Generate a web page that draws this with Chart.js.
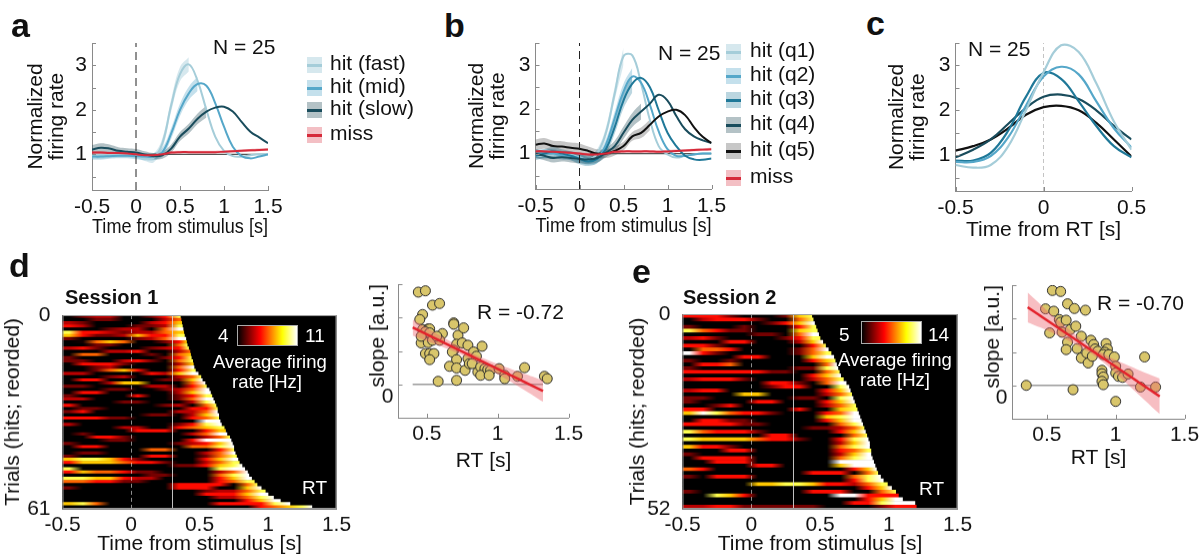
<!DOCTYPE html>
<html>
<head>
<meta charset="utf-8">
<title>Firing rate and RT</title>
<script src="https://cdn.jsdelivr.net/npm/chart.js@4.4.1/dist/chart.umd.min.js"></script>
<style>
  body { margin: 0; width: 1199px; height: 559px; position: relative; overflow: hidden; background: #fff;
         font-family: "Liberation Sans", Arial, Helvetica, sans-serif; color: #111; }
  .box { position: absolute; }
  .txt { position: absolute; white-space: nowrap; line-height: 1; }
  .sw { position: absolute; width: 15px; height: 16px; }
  .sw i { position: absolute; left: 0; top: 6.5px; width: 15px; height: 3px; }
  .cbar { position: absolute; box-sizing: border-box; border: 1px solid #aaa;
          background: linear-gradient(90deg, #000 0%, #f00 37.5%, #ff0 75%, #fff 100%); }
</style>
</head>
<body>
<script>
// ---------- panel a: hits split by RT, and misses ----------
const tA = [-0.5,-0.4,-0.3,-0.2,-0.1,0,0.1,0.2,0.3,0.4,0.5,0.6,0.7,0.8,0.9,1.0,1.1,1.2,1.3,1.4,1.5];
const hitFast = [0.98,0.98,0.99,1.0,1.0,0.98,0.93,0.92,1.25,2.1,2.8,3.02,2.65,2.0,1.4,1.08,0.96,0.95,0.98,1.0,1.0];
const hitMid  = [0.95,0.95,0.96,0.97,0.97,0.96,0.95,0.95,1.05,1.47,2.0,2.37,2.58,2.54,2.15,1.62,1.17,0.96,0.91,0.95,1.0];
const hitSlow = [1.11,1.15,1.13,1.08,1.06,1.04,1.0,0.96,0.98,1.13,1.4,1.58,1.8,1.96,2.05,2.07,1.96,1.73,1.51,1.38,1.25];
const missA   = [1.04,1.04,1.03,1.03,1.02,1.0,0.98,0.98,1.0,1.04,1.05,1.05,1.05,1.05,1.05,1.06,1.07,1.08,1.09,1.1,1.11];
const semFast = [0.08,0.08,0.07,0.07,0.07,0.07,0.08,0.1,0.12,0.14,0.16,0.16];
const semMid  = [0.07,0.07,0.06,0.06,0.06,0.07,0.08,0.08,0.1,0.12,0.14,0.15,0.16];
const semSlow = [0.1,0.1,0.09,0.08,0.08,0.08,0.07,0.07,0.08,0.09,0.1,0.11,0.12,0.13];
const semMissA = [0.03,0.03,0.03,0.03,0.03,0.03,0.03,0.03,0.03,0.03,0.03,0.03,0.03,0.03,0.03,0.03,0.03,0.03,0.03,0.03,0.03];
const legendA = ['hit (fast)', 'hit (mid)', 'hit (slow)', 'miss'];

// ---------- panel b: hits by RT quintile ----------
const tB = tA;
const q1 = [0.95,0.95,0.97,0.98,0.97,0.92,0.86,1.0,1.47,2.36,3.2,3.22,2.58,1.76,1.17,0.98,0.91,0.95,0.98,1.0,1.0];
const q2 = [1.0,1.0,1.0,0.96,0.95,0.9,0.85,0.88,1.2,1.8,2.4,2.74,2.6,2.1,1.5,1.1,0.95,0.95,0.98,1.0,1.0];
const q3 = [0.95,1.0,1.05,1.0,0.95,0.88,0.82,0.88,1.1,1.6,2.2,2.58,2.71,2.5,1.98,1.47,1.17,0.95,0.87,0.86,0.89];
const q4 = [1.0,0.95,0.9,0.92,0.9,0.88,0.87,0.9,1.02,1.17,1.47,1.76,1.95,2.13,2.33,2.2,1.85,1.55,1.39,1.3,1.24];
const q5 = [1.2,1.23,1.17,1.16,1.13,1.11,1.06,1.0,1.0,1.06,1.17,1.39,1.47,1.65,1.84,1.95,1.99,1.87,1.6,1.38,1.24];
const missB = [1.05,1.05,1.04,1.03,1.02,1.0,0.98,0.98,1.0,1.04,1.05,1.05,1.05,1.05,1.04,1.05,1.06,1.07,1.08,1.09,1.1];
const semQ1 = [0.08,0.08,0.08,0.08,0.08,0.1,0.1,0.1,0.12,0.15,0.2];
const semQ2 = [0.1,0.1,0.1,0.1,0.1,0.12,0.1,0.1,0.12,0.15,0.18,0.2];
const semQ3 = [0.1,0.1,0.1,0.1,0.1,0.12,0.1,0.1,0.12,0.15,0.18,0.2];
const semQ4 = [0.1,0.1,0.1,0.1,0.1,0.1,0.1,0.1,0.1,0.12,0.14,0.16,0.18];
const semQ5 = [0.12,0.12,0.12,0.12,0.12,0.12,0.1,0.1,0.1,0.1,0.1,0.1,0.12,0.12];
const semMissB = semMissA;
const legendB = ['hit (q1)', 'hit (q2)', 'hit (q3)', 'hit (q4)', 'hit (q5)', 'miss'];

// ---------- panel c: aligned to RT ----------
const tC = [-0.5,-0.4,-0.3,-0.2,-0.1,0,0.1,0.2,0.3,0.4,0.5];
const c1 = [0.78,0.72,0.78,1.2,2.0,2.85,3.45,3.3,2.6,1.75,1.12];
const c2 = [0.85,0.85,0.98,1.4,2.1,2.75,2.97,2.8,2.2,1.6,1.17];
const c3 = [0.88,0.88,1.05,1.55,2.3,2.83,2.7,2.2,1.65,1.2,0.95];
const c4 = [0.95,1.12,1.35,1.7,2.05,2.3,2.35,2.25,2.0,1.65,1.35];
const c5 = [1.1,1.2,1.35,1.6,1.9,2.07,2.1,2.0,1.72,1.35,0.97];

// shared ticks
const rateTicks = [0.5,1,1.5,2,2.5,3,3.5];
const rateLabels = [1,2,3];
const stimTicks = [-0.5,0,0.5,1,1.5];
const rtTicks = [-0.5,0,0.5];
const baseLineX = [0.12, 1.5];

// ---------- panel d / e heatmaps: one string per trial, digit = rate level per 0.1 s bin from -0.5 s ----------
const rtHeatD = [0.36,0.365,0.37,0.375,0.38,0.385,0.39,0.40,0.405,0.41,
  0.42,0.43,0.435,0.44,0.45,0.455,0.46,0.47,0.49,0.51,
  0.52,0.54,0.55,0.57,0.58,0.59,0.60,0.61,0.62,0.63,
  0.63,0.64,0.64,0.65,0.66,0.68,0.69,0.70,0.72,0.73,
  0.74,0.75,0.75,0.76,0.77,0.78,0.79,0.81,0.83,0.85,
  0.86,0.88,0.90,0.92,0.95,0.98,1.00,1.04,1.09,1.16,1.32];
const heatD = ['034400358','003300046','430000457','540003348','000344069','855434467','753347558','300003469',
  '0167600357','0033000068','4530003458','0004450046','0660003067','3000000358','3300453068','0555300047',
  '0034000069','0036750058','4400005479','00034000468','05500003379','00047700069','33000044058','00033003469',
  '05500000479','30000500358','44000000369','000033000489','500000034068','033000000558','350000004469','000000330479',
  '555330000568','000000000099','400000003589','000044005678','000005550057','030000000469','0055300000468','0003300005999',
  '3000000034579','0550000006689','0000006600058','0330000000469','3000005500368','7887530000579','5777655300468','00000000335789',
  '80000000000899','57665330000469','00000033000689','88775440000579','66553300000568','000000005555068','300000005550079','000000000034468',
  '000000000055579','0000000000044689','0000000000000579','78600000000555589','0000000000000056789'];
const rtHeatE = [0.44,0.45,0.46,0.47,0.48,0.49,0.50,0.52,0.54,0.56,
  0.58,0.60,0.61,0.62,0.63,0.64,0.65,0.67,0.69,0.71,
  0.72,0.73,0.74,0.75,0.76,0.77,0.78,0.79,0.80,0.81,
  0.82,0.83,0.84,0.85,0.86,0.86,0.87,0.87,0.88,0.89,
  0.90,0.91,0.92,0.94,0.96,0.99,1.02,1.05,1.07,1.10,1.19,1.20];
const heatE = ['5553000378','0455530068','0000003579','3000300058','8653300078','0000033069','4530000358','00055000479',
  '55300000058','06650000369','95300000368','00005500079','300300000578','055600000069','300000003389','555555330068',
  '000000000579','455530000468','000000553069','0000003550089','4550000000579','0000770000468','3300000033089','3000055000579',
  '0035000000468','5500000050078','7986553000569','0000000000789','0553300000579','55553300000689','00000000033468','86555300000579',
  '00000055000068','87777655300589','00000000000479','75530000000689','00055000000568','30000000000479','05555000000689','00555000000999',
  '00000550000799','650000000000579','000000000555068','305550000000689','000000000000589','000007788755468','0000000000000579','3000000005550068',
  '0087500000099555','0000000000000579','00000000000055899','44553333330000355'];
const heatTicksX = [-0.5,0,0.5,1,1.5];
const trialTicksD = [0, 61];
const trialTicksE = [0, 52];
const heatMarkT = [0, 0.3];

// ---------- scatter: slope vs RT ----------
const rtScatD = [0.44,0.49,0.54,0.59,0.47,0.45,0.47,0.51,0.52,0.49,0.52,0.61,0.46,0.51,0.54,0.59,0.49,0.52,0.55,0.52,
  0.58,0.69,0.69,0.72,0.76,0.71,0.75,0.79,0.69,0.68,0.71,0.66,0.71,0.71,0.77,0.79,0.80,0.83,0.85,0.82,
  0.86,0.89,0.88,0.91,0.88,0.93,0.95,0.94,1.01,1.05,1.05,1.14,1.19,1.33,1.35,0.46,0.57];
const slopeScatD = [2.76,2.80,2.37,2.42,2.09,1.94,1.64,1.66,1.66,1.57,1.54,1.52,1.24,1.25,1.32,1.32,0.92,0.92,0.92,0.74,
  0.09,1.84,1.80,1.47,1.69,1.20,1.24,1.17,1.02,0.97,0.74,0.54,0.49,0.12,0.42,0.77,0.62,0.97,0.84,0.62,
  0.37,1.14,0.52,0.47,0.27,0.44,0.42,0.27,0.47,0.27,0.17,0.24,0.50,0.24,0.17,1.44,1.44];
const fitXD = [0.40, 1.32], fitYD = [1.70, -0.20];
const bandXD = [0.4,0.6,0.8,1.0,1.2,1.32];
const bandUpD = [1.94,1.44,0.97,0.61,0.30,0.12];
const bandLoD = [1.46,1.14,0.77,0.31,-0.20,-0.52];
const zeroXD = [0.40, 1.32];

const rtScatE = [0.54,0.60,0.49,0.55,0.65,0.70,0.78,0.59,0.60,0.64,0.52,0.61,0.67,0.71,0.65,0.64,0.72,0.75,0.75,0.80,
  0.82,0.84,0.85,0.87,0.79,0.83,0.93,0.94,0.92,0.91,0.95,0.99,0.90,0.90,0.91,0.90,0.91,1.00,1.00,1.02,
  1.05,1.09,1.18,1.21,1.29,0.35,0.69,1.00];
const slopeScatE = [2.84,2.81,2.29,2.22,2.44,2.30,2.25,1.97,1.89,1.95,1.57,1.59,1.67,1.77,1.29,1.07,1.10,1.47,0.82,0.67,
  1.35,1.22,1.09,1.02,0.97,0.87,1.25,1.09,0.99,0.92,0.92,0.85,0.45,0.35,0.25,0.12,0.02,0.57,0.37,0.27,
  0.24,0.34,-0.05,0.85,-0.05,0.00,-0.13,-0.48];
const fitXE = [0.36, 1.32], fitYE = [2.34, -0.33];
const bandXE = [0.36,0.55,0.75,0.9,1.1,1.32];
const bandUpE = [2.78,2.06,1.39,0.96,0.58,0.20];
const bandLoE = [1.89,1.56,1.13,0.72,-0.02,-0.86];
const zeroXE = [0.35, 1.32];
const zeroY = [0, 0];
const slopeTicksX = [0.5, 1, 1.5];
const slopeTicksY = [-1, 0, 1, 2, 3];
const slopeLabelsY = [0];

// ---------- styling ----------
const INK = '#111', AXIS = '#8a8a8a';
const FONT = {size: 21};
const C1 = '#a5cdd9', C2 = '#55a7c9', C3 = '#1f7898', C4 = '#194c5c', C5 = '#111111', RED = '#d62a3a';
const SH1 = 'rgba(165,205,217,0.45)', SH2 = 'rgba(85,167,201,0.35)', SH3 = 'rgba(31,120,152,0.3)';
const SH4 = 'rgba(40,80,92,0.35)', SH5 = 'rgba(0,0,0,0.22)', SHR = 'rgba(214,42,58,0.3)';

Chart.defaults.font.family = '"Liberation Sans", Arial, Helvetica, sans-serif';
Chart.defaults.color = INK;

function mount(area, yw, xh, pt, pr) {
  const div = document.createElement('div');
  div.className = 'box';
  div.style.left = (area.l - yw) + 'px';
  div.style.top = (area.t - pt) + 'px';
  div.style.width = (yw + area.r - area.l + pr) + 'px';
  div.style.height = (pt + area.b - area.t + xh) + 'px';
  const cv = document.createElement('canvas');
  div.appendChild(cv);
  document.body.appendChild(div);
  return cv;
}

function xAxis(min, max, ticks, title, xh, pad) {
  return {
    type: 'linear', min, max, offset: false,
    afterBuildTicks: s => { s.ticks = ticks.map(v => ({value: v})); },
    afterFit: s => { s.height = xh; },
    grid: {display: false, drawTicks: false},
    border: {display: true, color: AXIS},
    ticks: {color: INK, font: FONT, padding: pad, maxRotation: 0, autoSkip: false, callback: v => String(v)},
    title: {display: true, text: title, color: INK, font: FONT, padding: 0}
  };
}

function yAxis(min, max, ticks, shown, title, yw, pad, reverse, labelFn) {
  return {
    type: 'linear', min, max, reverse: !!reverse, offset: false,
    afterBuildTicks: s => { s.ticks = ticks.map(v => ({value: v})); },
    afterFit: s => { s.width = yw; },
    grid: {display: false, drawTicks: false},
    border: {display: true, color: AXIS},
    ticks: {color: INK, font: FONT, padding: pad, autoSkip: false,
            callback: v => shown.includes(v) ? (labelFn ? labelFn(v) : String(v)) : ''},
    title: {display: true, text: title, color: INK, font: {size: 21, lineHeight: 1}, padding: 0}
  };
}

// matlab-like inward tick marks
const inTicks = {
  id: 'inTicks',
  afterDatasetsDraw(chart, args, opts) {
    const {ctx, chartArea: a, scales: {x, y}} = chart;
    ctx.save();
    ctx.strokeStyle = AXIS;
    ctx.lineWidth = 1;
    ctx.beginPath();
    (opts.x || []).forEach(v => { const p = Math.round(x.getPixelForValue(v)) + 0.5; ctx.moveTo(p, a.bottom); ctx.lineTo(p, a.bottom - 4); });
    (opts.y || []).forEach(v => { const p = Math.round(y.getPixelForValue(v)) + 0.5; ctx.moveTo(a.left, p); ctx.lineTo(a.left + 4, p); });
    ctx.stroke();
    ctx.restore();
  }
};

const pts = (t, ys) => t.map((x, i) => ({x, y: ys[i] ?? null}));
const band = (t, ys, sem, sign) => t.map((x, i) => ({x, y: sem[i] == null ? null : ys[i] + sign * sem[i]}));

function trace(t, ys, sem, color, shade) {
  return [
    {data: band(t, ys, sem, 1), borderWidth: 0, backgroundColor: shade, fill: '+1', tension: 0.4, order: 5},
    {data: band(t, ys, sem, -1), borderWidth: 0, backgroundColor: shade, fill: false, tension: 0.4, order: 5},
    {data: pts(t, ys), borderColor: color, borderWidth: 2, fill: false, tension: 0.4, order: 1}
  ];
}

function rateChart(area, yw, xh, xMin, xMax, xTicks, xTitle, datasets) {
  const cv = mount(area, yw, xh, 20, 24);
  return new Chart(cv, {
    type: 'line',
    data: {datasets},
    options: {
      responsive: true, maintainAspectRatio: false, animation: false,
      layout: {padding: {top: 20, right: 24}},
      elements: {point: {radius: 0}},
      scales: {
        x: xAxis(xMin, xMax, xTicks, xTitle, xh, 5),
        y: yAxis(0.2, 3.5, rateTicks, rateLabels, ['Normalized', 'firing rate'], yw, 5)
      },
      plugins: {legend: {display: false}, tooltip: {enabled: false}, colors: {enabled: false}, inTicks: {x: xTicks, y: rateTicks}}
    },
    plugins: [inTicks]
  });
}

const stimLine = {data: [{x: 0, y: 0.2}, {x: 0, y: 3.5}], borderColor: '#222', borderWidth: 1, borderDash: [8, 5], order: 0};
const baseLine = {data: pts(baseLineX, [1, 1]), borderColor: '#555', borderWidth: 1.2, order: 2};

rateChart({l: 92, r: 268, t: 43, b: 190}, 66, 50, -0.5, 1.5, stimTicks, 'Time from stimulus [s]', [
  stimLine, baseLine,
  ...trace(tA, missA, semMissA, RED, SHR),
  ...trace(tA, hitSlow, semSlow, C4, SH4),
  ...trace(tA, hitMid, semMid, C2, SH2),
  ...trace(tA, hitFast, semFast, C1, SH1)
]);

rateChart({l: 535, r: 711, t: 43, b: 189}, 68.5, 50, -0.5, 1.5, stimTicks, 'Time from stimulus [s]', [
  {...stimLine}, {...baseLine, data: pts(baseLineX, [1, 1])},
  ...trace(tB, missB, semMissB, RED, SHR),
  ...trace(tB, q5, semQ5, C5, SH5),
  ...trace(tB, q4, semQ4, C4, SH4),
  ...trace(tB, q3, semQ3, C3, SH3),
  ...trace(tB, q2, semQ2, C2, SH2),
  ...trace(tB, q1, semQ1, C1, SH1)
]);

const lineC = (ys, color) => ({data: pts(tC, ys), borderColor: color, borderWidth: 2.2, tension: 0.4, order: 1});
rateChart({l: 955, r: 1131, t: 43, b: 191}, 68.5, 52, -0.5, 0.5, rtTicks, 'Time from RT [s]', [
  {data: [{x: 0, y: 0.2}, {x: 0, y: 3.5}], borderColor: '#c4c4c4', borderWidth: 1, borderDash: [4, 3], order: 3},
  lineC(c1, C1), lineC(c2, C2), lineC(c3, C3), lineC(c4, C4), lineC(c5, C5)
]);

// ---------- heatmaps ----------
function hot(d) {
  const v = Math.pow(d / 9, 1.6);
  const r = Math.min(1, v / 0.375);
  const g = Math.min(1, Math.max(0, (v - 0.375) / 0.375));
  const b = Math.max(0, (v - 0.75) / 0.25);
  return `rgb(${Math.round(r * 255)},${Math.round(g * 255)},${Math.round(b * 255)})`;
}

function rowFill(c, rows, rts) {
  if (c.type !== 'data') return '#000';
  const xs = c.chart.scales.x;
  const i = c.dataIndex, rt = rts[i], s = rows[i];
  const x0 = xs.getPixelForValue(-0.5), x1 = xs.getPixelForValue(rt);
  if (!isFinite(x0) || !isFinite(x1) || x1 <= x0) return '#000';
  const g = c.chart.ctx.createLinearGradient(x0, 0, x1, 0);
  for (let k = 0; k < s.length; k++) {
    g.addColorStop(Math.min(1, (0.05 + 0.1 * k) / (rt + 0.5)), hot(+s[k]));
  }
  return g;
}

const heatDeco = {
  id: 'heatDeco',
  beforeDatasetsDraw(chart) {
    const {ctx, chartArea: a} = chart;
    ctx.save();
    ctx.fillStyle = '#000';
    ctx.fillRect(a.left, a.top, a.width, a.height);
    ctx.restore();
  },
  afterDatasetsDraw(chart, args, opts) {
    const {ctx, chartArea: a, scales: {x}} = chart;
    const [tStim, tWin] = opts.t;
    ctx.save();
    ctx.lineWidth = 1;
    let p = Math.round(x.getPixelForValue(tStim)) + 0.5;
    ctx.strokeStyle = 'rgba(255,255,255,0.55)';
    ctx.setLineDash([4, 3]);
    ctx.beginPath(); ctx.moveTo(p, a.top); ctx.lineTo(p, a.bottom); ctx.stroke();
    p = Math.round(x.getPixelForValue(tWin)) + 0.5;
    ctx.strokeStyle = 'rgba(225,225,225,0.85)';
    ctx.setLineDash([]);
    ctx.beginPath(); ctx.moveTo(p, a.top); ctx.lineTo(p, a.bottom); ctx.stroke();
    ctx.strokeStyle = '#9a9a9a';
    ctx.strokeRect(a.left + 0.5, a.top + 0.5, a.width - 1, a.height - 1);
    ctx.restore();
  }
};

function heatChart(area, yw, xh, rows, rts, trialTicks) {
  const cv = mount(area, yw, xh, 26, 22);
  return new Chart(cv, {
    type: 'bar',
    data: {datasets: [{
      data: rts.map((rt, i) => ({y: i + 0.5, x: [-0.5, rt]})),
      backgroundColor: c => rowFill(c, rows, rts),
      borderWidth: 0, barPercentage: 1, categoryPercentage: 1
    }]},
    options: {
      indexAxis: 'y', responsive: true, maintainAspectRatio: false, animation: false,
      layout: {padding: {top: 26, right: 22}},
      scales: {
        x: xAxis(-0.5, 1.5, heatTicksX, 'Time from stimulus [s]', xh, 4),
        y: yAxis(trialTicks[0], trialTicks[1], trialTicks, trialTicks, 'Trials (hits; reorded)', yw, 12, true)
      },
      plugins: {legend: {display: false}, tooltip: {enabled: false}, colors: {enabled: false}, heatDeco: {t: heatMarkT}}
    },
    plugins: [heatDeco]
  });
}

heatChart({l: 62, r: 336, t: 315, b: 508}, 59.5, 47.6, heatD, rtHeatD, trialTicksD);
heatChart({l: 682, r: 957, t: 314, b: 508}, 54.5, 47.6, heatE, rtHeatE, trialTicksE);

// ---------- slope scatters ----------
function slopeChart(area, yw, xh, xMin, rt, slope, fitX, fitY, bandX, up, lo, zeroX) {
  const cv = mount(area, yw, xh, 20, 22);
  const xy = (xs, ys) => xs.map((x, i) => ({x, y: ys[i]}));
  const yOpts = yAxis(-1, 3, slopeTicksY, slopeLabelsY, 'slope [a.u.]', yw, 5, false, v => ['', String(v)]);
  yOpts.title.align = 'end';
  return new Chart(cv, {
    type: 'line',
    data: {datasets: [
      {data: xy(zeroX, zeroY), borderColor: '#9a9a9a', borderWidth: 1.5, order: 6},
      {data: xy(rt, slope), showLine: false, pointRadius: 5, pointBackgroundColor: '#d9c66b',
       pointBorderColor: '#2b2b2b', pointBorderWidth: 1, order: 5},
      {data: xy(bandX, up), borderWidth: 0, backgroundColor: 'rgba(236,100,110,0.42)', fill: '+1', tension: 0.4, order: 4},
      {data: xy(bandX, lo), borderWidth: 0, backgroundColor: 'rgba(236,100,110,0.42)', fill: false, tension: 0.4, order: 4},
      {data: xy(fitX, fitY), borderColor: '#e3232c', borderWidth: 2.5, order: 1}
    ]},
    options: {
      responsive: true, maintainAspectRatio: false, animation: false,
      layout: {padding: {top: 20, right: 22}},
      elements: {point: {radius: 0}},
      scales: {
        x: xAxis(xMin, 1.5, slopeTicksX, 'RT [s]', xh, 4),
        y: yOpts
      },
      plugins: {legend: {display: false}, tooltip: {enabled: false}, colors: {enabled: false}, inTicks: {x: slopeTicksX, y: slopeTicksY}}
    },
    plugins: [inTicks]
  });
}

slopeChart({l: 398, r: 568, t: 284, b: 417}, 30.5, 55.6, 0.3, rtScatD, slopeScatD, fitXD, fitYD, bandXD, bandUpD, bandLoD, zeroXD);
slopeChart({l: 1012, r: 1184, t: 285, b: 418}, 29.5, 51.6, 0.25, rtScatE, slopeScatE, fitXE, fitYE, bandXE, bandUpE, bandLoE, zeroXE);

// ---------- text, legends, colorbars ----------
function label(str, left, top, size, extra) {
  const d = document.createElement('div');
  d.className = 'txt';
  d.textContent = str;
  d.style.cssText += `left:${left}px;top:${top}px;font-size:${size}px;` + (extra || '');
  document.body.appendChild(d);
}

function legend(xSw, xTxt, ys, labels, colors, shades) {
  labels.forEach((lab, i) => {
    const sw = document.createElement('div');
    sw.className = 'sw';
    sw.style.left = xSw + 'px';
    sw.style.top = (ys[i] - 8) + 'px';
    sw.style.background = shades[i];
    sw.innerHTML = `<i style="background:${colors[i]}"></i>`;
    document.body.appendChild(sw);
    label(lab, xTxt, ys[i] - 12.8, 21);
  });
}

function cbar(left, top, w, h) {
  const d = document.createElement('div');
  d.className = 'cbar';
  d.style.cssText += `left:${left}px;top:${top}px;width:${w}px;height:${h}px;`;
  document.body.appendChild(d);
}

const BOLD = 'font-weight:bold;';
label('a', 11, 8, 34, BOLD);
label('b', 444, 8, 34, BOLD);
label('c', 866, 6, 34, BOLD);
label('d', 9, 248, 34, BOLD);
label('e', 632, 254, 34, BOLD);

label('N = 25', 213, 35.7, 21);
label('N = 25', 658, 41.5, 21);
label('N = 25', 968, 37.5, 21);

legend(307, 330, [65, 88, 110, 135], legendA, [C1, C2, C4, RED], [SH1, SH2, SH4, SHR]);
legend(726, 750, [52, 76, 100, 125, 151, 178], legendB, [C1, C2, C3, C4, C5, RED], [SH1, SH2, SH3, SH4, SH5, SHR]);

label('Session 1', 65, 287, 20, BOLD);
label('Session 2', 683, 287, 20, BOLD);

const WHITE = 'color:#fff;';
cbar(237, 325, 61, 21);
label('4', 218, 326, 19, WHITE);
label('11', 305, 326, 19, WHITE);
label('Average firing', 213, 353, 18.5, WHITE);
label('rate [Hz]', 232, 373, 18.5, WHITE);
label('RT', 302, 478, 19, WHITE);

cbar(861, 321, 61, 23);
label('5', 839, 325, 19, WHITE);
label('14', 928, 325, 19, WHITE);
label('Average firing', 838, 351, 18.5, WHITE);
label('rate [Hz]', 860, 371, 18.5, WHITE);
label('RT', 919, 479, 19, WHITE);

label('R = -0.72', 477, 300.7, 21);
label('R = -0.70', 1097, 291.7, 21);
</script>
</body>
</html>
